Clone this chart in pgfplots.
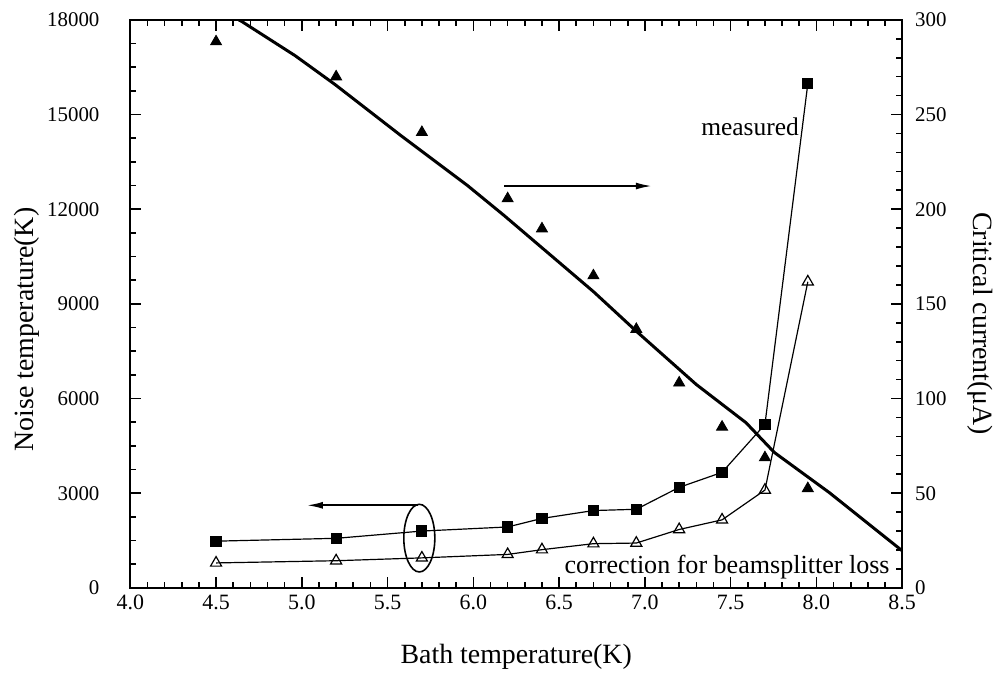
\documentclass[border=0pt]{standalone}
\usepackage{fontspec}
\setmainfont{Liberation Serif}
\usepackage{pgfplots}
\pgfplotsset{compat=1.18}
\usetikzlibrary{arrows.meta}
\begin{document}
\begin{tikzpicture}
\pgfplotsset{
  common/.style={
    scale only axis, width=388pt, height=285.5pt,
    xmin=4, xmax=8.5,
    tick align=inside,
    major tick length=5.5pt, minor tick length=3pt,
    axis line style={line width=0.9pt},
    every tick/.style={line width=0.8pt, black},
    /pgf/number format/assume math mode=true,
    tick label style={font=\fontsize{10.5}{12}\selectfont},
    label style={font=\fontsize{14}{16}\selectfont},
    clip=true,
  }
}
\begin{axis}[common, name=ax,
  ymin=0, ymax=18000,
  xtick={4.0,4.5,5.0,5.5,6.0,6.5,7.0,7.5,8.0,8.5},
  minor x tick num=4,
  ytick={0,3000,6000,9000,12000,15000,18000},
  minor y tick num=3,
  ytick pos=left,
  scaled y ticks=false,
  xticklabel style={font=\fontsize{11}{12}\selectfont, /pgf/number format/.cd, fixed, fixed zerofill, precision=1},
  yticklabel style={/pgf/number format/.cd, fixed, 1000 sep={}, /tikz/.cd, xshift=-12pt},
  xlabel={Bath temperature(K)},
  ylabel={Noise temperature(K)},
  xlabel style={at={(axis description cs:0.5,-0.121)}, anchor=center},
  ylabel style={at={(axis description cs:-0.134,0.455)}, anchor=center},
]
% measured noise temperature
\addplot[black, line width=0.6pt, mark=square*, mark size=2.5pt, mark options={solid}] coordinates {
(4.5,1480) (5.2,1570) (5.7,1800) (6.2,1930) (6.4,2200) (6.7,2450) (6.95,2490)
(7.2,3185) (7.45,3660) (7.7,5180) (7.95,15980)};
% corrected for beamsplitter loss
\addplot[black, line width=0.6pt, mark=triangle, mark size=3.2pt, mark options={fill=white, solid}] coordinates {
(4.5,790) (5.2,860) (5.7,950) (6.2,1060) (6.4,1210) (6.7,1400) (6.95,1420)
(7.2,1850) (7.45,2155) (7.7,3100) (7.95,9700)};
% annotations
\draw[line width=0.9pt, -{Latex[length=8pt,width=3.5pt]}] (axis cs:6.18,12735) -- (axis cs:7.04,12735);
\draw[line width=0.9pt, -{Latex[length=8pt,width=3.5pt]}] (axis cs:5.676,2616) -- (axis cs:5.03,2616);
\draw[line width=0.8pt] (axis cs:5.685,1576) ellipse [x radius=7.8pt, y radius=17pt];
\node[anchor=base east, inner sep=0pt, font=\fontsize{12.8}{14}\selectfont] at (axis cs:7.9,14342) {measured};
\node[anchor=base west, inner sep=0pt, font=\fontsize{13.1}{14}\selectfont] at (axis cs:6.53,441) {correction for beamsplitter loss};
\end{axis}
\begin{axis}[common,
  ymin=0, ymax=300,
  axis x line=none,
  axis y line*=right,
  ytick={0,50,100,150,200,250,300},
  minor y tick num=4,
  yticklabel style={xshift=3pt},
  ylabel={Critical current(μA)},
  ylabel style={at={(axis description cs:1.1005,0.465)}, anchor=center, rotate=180},
]
% fit of critical current
\addplot[black, line width=1.5pt, mark=none] coordinates {
(4.633,300) (4.651,299.1) (4.961,281.1) (5.193,265.9) (5.579,238.8) (5.966,212.5)
(6.179,196.7) (6.701,156.4) (6.952,135.4) (7.300,107.4) (7.590,87.2) (7.755,71.5)
(8.074,50.4) (8.5,19.6)};
% measured critical current
\addplot[only marks, black, mark=triangle*, mark size=3.2pt] coordinates {
(4.5,288.5) (5.2,270) (5.7,240.6) (6.2,205.6) (6.4,189.7) (6.7,164.9) (6.95,136.6)
(7.2,108.3) (7.45,85) (7.7,68.8) (7.95,52.5)};
\end{axis}
\path ([shift={(-65.5pt,-43pt)}]ax.south west) ([shift={(46pt,10pt)}]ax.north east);
\end{tikzpicture}
\end{document}
